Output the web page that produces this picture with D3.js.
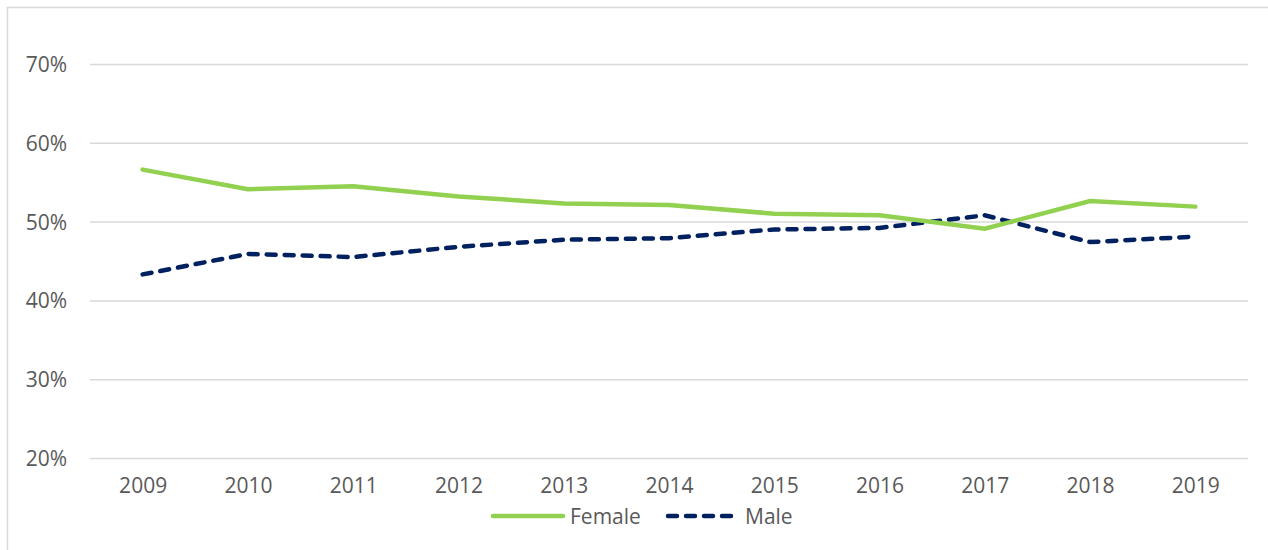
<!DOCTYPE html>
<html lang="en">
<head>
  <meta charset="UTF-8">
  <title>Female vs Male share, 2009-2019</title>
  <script src="https://cdn.jsdelivr.net/npm/d3@7/dist/d3.min.js"></script>
  <style>
    body { margin: 0; background: #fff; }
    text { font-family: "Open Sans", sans-serif; fill: #595959; }
  </style>
</head>
<body>
  <div id="chart"></div>

  <script>
    // data
    var years = ["2009", "2010", "2011", "2012", "2013", "2014", "2015", "2016", "2017", "2018", "2019"];
    var female = [0.566, 0.541, 0.545, 0.532, 0.523, 0.521, 0.510, 0.508, 0.491, 0.526, 0.519];
    var male = [0.433, 0.459, 0.455, 0.468, 0.477, 0.479, 0.490, 0.492, 0.508, 0.474, 0.481];
    var yTicks = [0.2, 0.3, 0.4, 0.5, 0.6, 0.7];
    var seriesNames = ["Female", "Male"];

    var W = 1268, H = 550;
    var svg = d3.select("#chart").append("svg")
      .attr("width", W)
      .attr("height", H);

    // chart frame (runs off the right and bottom edge in the original)
    svg.append("rect")
      .attr("x", 7.5).attr("y", 7.5)
      .attr("width", W + 10).attr("height", H + 10)
      .attr("fill", "none")
      .attr("stroke", "#d9d9d9")
      .attr("stroke-width", 1.5);

    var x = d3.scalePoint()
      .domain(years)
      .range([90, 1248])
      .padding(0.5);

    var y = d3.scaleLinear()
      .domain([0.2, 0.7])
      .range([458, 64]);

    // gridlines + y labels
    var yAxis = svg.append("g")
      .attr("transform", "translate(90,0)")
      .call(d3.axisLeft(y).tickValues(yTicks).tickSize(-1158).tickPadding(23).tickFormat(d3.format(".0%")));
    yAxis.select(".domain").remove();
    yAxis.selectAll(".tick line").attr("stroke", "#d9d9d9").attr("stroke-width", 1.5);
    yAxis.selectAll(".tick text").attr("font-size", 21).attr("dy", "0.36em");

    // x labels
    var xAxis = svg.append("g")
      .attr("transform", "translate(0,458)")
      .call(d3.axisBottom(x).tickSize(0).tickPadding(20));
    xAxis.select(".domain").remove();
    xAxis.selectAll(".tick text").attr("font-size", 21);

    var line = d3.line()
      .x(function(d, i) { return x(years[i]); })
      .y(function(d) { return y(d); });

    svg.append("path")
      .attr("d", line(male))
      .attr("fill", "none")
      .attr("stroke", "#002060")
      .attr("stroke-width", 4.5)
      .attr("stroke-linecap", "round")
      .attr("stroke-dasharray", "9,9");

    svg.append("path")
      .attr("d", line(female))
      .attr("fill", "none")
      .attr("stroke", "#92d050")
      .attr("stroke-width", 4.5)
      .attr("stroke-linecap", "round");

    // legend
    var legend = svg.append("g");
    var legX = [493, 668];
    seriesNames.forEach(function(name, i) {
      legend.append("line")
        .attr("x1", legX[i]).attr("x2", legX[i] + 70)
        .attr("y1", 516).attr("y2", 516)
        .attr("stroke", i === 0 ? "#92d050" : "#002060")
        .attr("stroke-width", 4.5)
        .attr("stroke-linecap", "round")
        .attr("stroke-dasharray", i === 0 ? null : "9,9");
      legend.append("text")
        .attr("x", legX[i] + 77)
        .attr("y", 524)
        .attr("font-size", 21)
        .text(name);
    });
  </script>
</body>
</html>
